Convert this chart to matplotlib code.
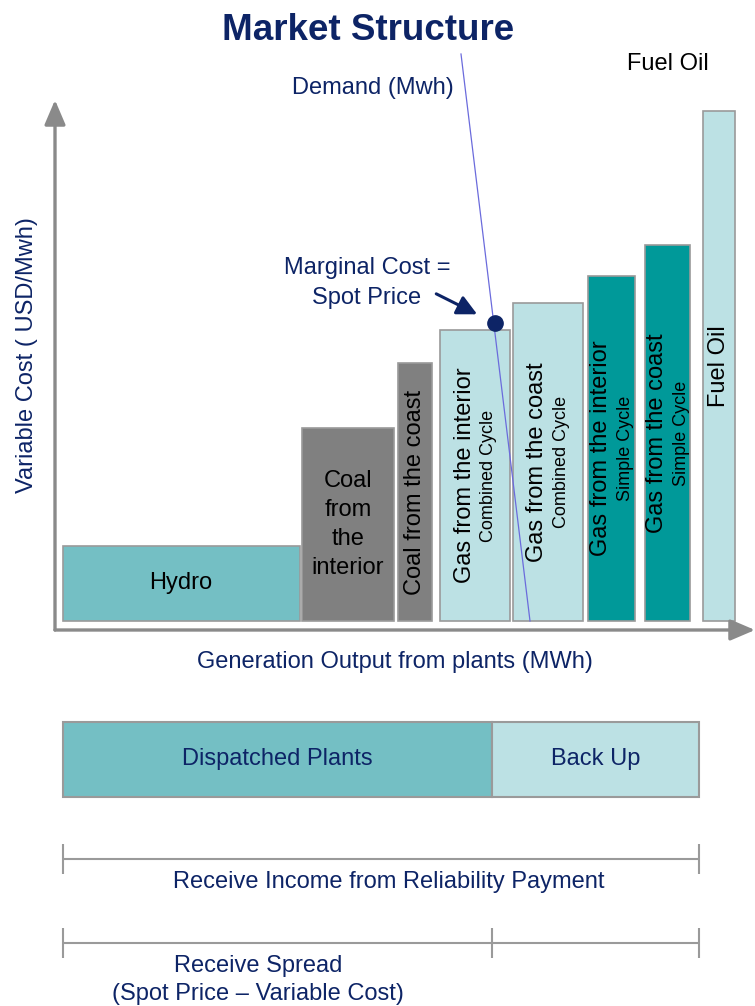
import numpy as np
import matplotlib
matplotlib.use('Agg')
import matplotlib.pyplot as plt

plt.rcParams['font.family'] = ['Liberation Sans', 'DejaVu Sans']

# plants in merit order: output range (MWh, arbitrary units) and variable cost
plants = ['Hydro', 'Coal\nfrom\nthe\ninterior', 'Coal from the coast',
          'Gas from the interior', 'Gas from the coast',
          'Gas from the interior', 'Gas from the coast', 'Fuel Oil']
cycle = ['', '', '', 'Combined Cycle', 'Combined Cycle',
         'Simple Cycle', 'Simple Cycle', '']
output_start = [7.6, 247, 342.7, 384.6, 457.8, 533.3, 590, 647.5]
output_end = [244.5, 339, 377.4, 455.4, 528, 579.6, 635.4, 680.2]
var_cost = [75, 193, 258, 291, 318, 345, 376, 510]
kind = ['hydro', 'coal', 'coal', 'backup', 'backup', 'peak', 'peak', 'backup']

# demand line (two end points)
demand_x = [406, 475]
demand_y = [567, 0]

# dispatched / back up split
band_labels = ['Dispatched Plants', 'Back Up']
band_edges = [7.6, 437, 644]

navy = '#0d2466'
axis_grey = '#8a8a8a'
edge_grey = '#9a9a9a'
colors = {'hydro': '#74bfc4', 'coal': '#808080', 'backup': '#bce1e4', 'peak': '#009999'}
band_colors = ['#74bfc4', '#bce1e4']

W, H = 755, 1006
fig = plt.figure(figsize=(W / 100, H / 100), dpi=100)

# main chart: left at 55px, bottom axis at 630px
ax = fig.add_axes([55 / W, (H - 630) / H, 700 / W, 580 / H])
ax.set_xlim(0, 700)
ax.set_ylim(-9, 571)
ax.axis('off')

start = np.array(output_start)
width = np.array(output_end) - start
ax.bar(start, var_cost, width=width, align='edge',
       color=[colors[k] for k in kind], edgecolor=edge_grey, linewidth=1.2, zorder=2)

for i, name in enumerate(plants):
    cx = start[i] + width[i] / 2
    cy = var_cost[i] / 2
    if i < 2:
        ax.text(cx, cy, name, ha='center', va='center', fontsize=17,
                color='black', linespacing=1.42, zorder=4)
    elif cycle[i] == '':
        ax.text(cx, cy, name, ha='center', va='center', fontsize=17,
                rotation=90, color='black', zorder=4)
    else:
        ax.annotate(name, (cx, cy), xytext=(-7.5, 0), textcoords='offset points',
                    ha='center', va='center', fontsize=17, rotation=90,
                    color='black', zorder=4)
        ax.annotate(cycle[i], (cx, cy), xytext=(10, 0), textcoords='offset points',
                    ha='center', va='center', fontsize=13, rotation=90,
                    color='black', zorder=4)

# axes arrows
arrow = dict(arrowstyle='-|>,head_length=0.75,head_width=0.32', color=axis_grey,
             lw=2.4, mutation_scale=20, shrinkA=0, shrinkB=0)
ax.annotate('', xy=(0, 521), xytext=(0, -9), arrowprops=arrow, annotation_clip=False)
ax.annotate('', xy=(700, -9), xytext=(0, -9), arrowprops=arrow, annotation_clip=False)

# demand line and spot price
ax.plot(demand_x, demand_y, color='#6b6bdc', lw=0.9, zorder=3, clip_on=False)
marg = var_cost[3]
spot_x = demand_x[0] + (demand_x[1] - demand_x[0]) * (demand_y[0] - marg) / (demand_y[0] - demand_y[1])
ax.plot(spot_x, marg + 7, 'o', color=navy, markersize=11, zorder=5, clip_on=False)
ax.annotate('', xy=(spot_x, marg + 7), xytext=(-42, 21), textcoords='offset points',
            arrowprops=dict(arrowstyle='-|>,head_length=0.6,head_width=0.3', color=navy,
                            lw=2.2, mutation_scale=20, shrinkA=0, shrinkB=14))

# texts
fig.text(368 / W, 1 - 30 / H, 'Market Structure', ha='center', va='center',
         fontsize=26.5, fontweight='bold', color=navy)
fig.text(373 / W, 1 - 88 / H, 'Demand (Mwh)', ha='center', va='center', fontsize=17, color=navy)
fig.text(668 / W, 1 - 64 / H, 'Fuel Oil', ha='center', va='center', fontsize=17, color='black')
fig.text(367 / W, 1 - 283 / H, 'Marginal Cost =\nSpot Price', ha='center', va='center',
         fontsize=17, color=navy, linespacing=1.45)
fig.text(27 / W, 1 - 355 / H, 'Variable Cost ( USD/Mwh)', ha='center', va='center',
         fontsize=17, color=navy, rotation=90)
fig.text(395 / W, 1 - 662 / H, 'Generation Output from plants (MWh)', ha='center',
         va='center', fontsize=17, color=navy)

# bottom section, same horizontal scale, pixel rows
ax2 = fig.add_axes([55 / W, 0, 700 / W, 306 / H])
ax2.set_xlim(0, 700)
ax2.set_ylim(1006, 700)
ax2.axis('off')

edges = np.array(band_edges)
ax2.bar(edges[:-1], 75, bottom=722, width=np.diff(edges), align='edge',
        color=band_colors, edgecolor=edge_grey, linewidth=1.5)
for i, lab in enumerate(band_labels):
    ax2.text((edges[i] + edges[i + 1]) / 2, 759, lab, ha='center', va='center',
             fontsize=17, color=navy)

ax2.hlines(859, edges[0], edges[-1], color=edge_grey, lw=1.5)
ax2.vlines([edges[0], edges[-1]], 844, 874, color=edge_grey, lw=1.5)
ax2.text(334, 882, 'Receive Income from Reliability Payment', ha='center', va='center',
         fontsize=17, color=navy)

ax2.hlines(943, edges[0], edges[-1], color=edge_grey, lw=1.5)
ax2.vlines(edges, 928, 958, color=edge_grey, lw=1.5)
ax2.text(203, 980, 'Receive Spread\n(Spot Price \u2013 Variable Cost)', ha='center',
         va='center', fontsize=17, color=navy, linespacing=1.35)

fig.savefig('out.png', dpi=100)
